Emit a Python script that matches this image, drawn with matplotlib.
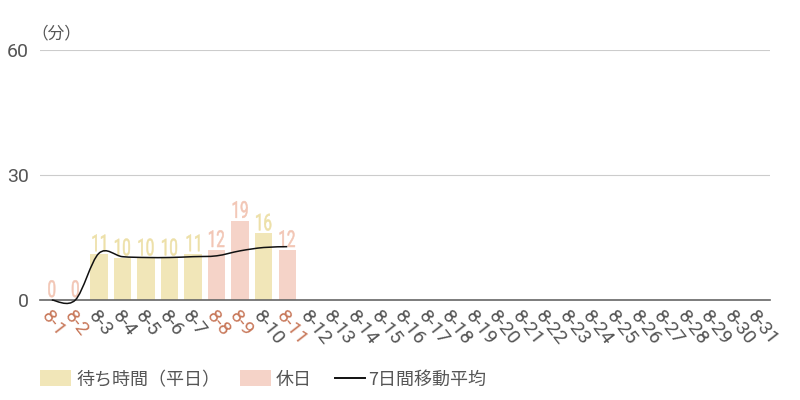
import matplotlib
matplotlib.use("Agg")
import matplotlib.pyplot as plt
from matplotlib.path import Path
from matplotlib.patches import PathPatch, Rectangle
from matplotlib.lines import Line2D
from matplotlib.textpath import TextPath
from matplotlib.font_manager import FontProperties
from matplotlib.transforms import Affine2D, ScaledTranslation
import numpy as np

days = [f"8-{d}" for d in range(1, 32)]
values = [0, 0, 11, 10, 10, 10, 11, 12, 19, 16, 12]
holiday_days = ["8-1", "8-2", "8-8", "8-9", "8-11"]
moving_avg = [0, 0, 11.2, 10.4, 10.2, 10.2, 10.4, 10.6, 11.8, 12.6, 12.8]
yticks = [0, 30, 60]
legend_labels = ["待ち時間（平日）", "休日", "7日間移動平均"]

C_WEEK = "#f1e6b8"
C_HOL = "#f5d3c8"
C_WEEK_TXT = "#ede0a8"
C_HOL_TXT = "#f2c6b5"
C_RED = "#c8785a"
C_GRAY = "#555555"

plt.rcParams['font.family'] = ['Roboto', 'Noto Sans CJK JP', 'DejaVu Sans']

W, H = 800, 400
fig = plt.figure(figsize=(8, 4), dpi=100)
ax = fig.add_axes([0.05, 0.25, 0.9125, 0.625])

x = np.arange(len(days))
fp_num = FontProperties(family='Roboto')
for i, v in enumerate(values):
    hol = days[i] in holiday_days
    col = C_HOL_TXT if hol else C_WEEK_TXT
    ax.bar(i, v, width=0.74, color=C_HOL if hol else C_WEEK, zorder=2)
    # condensed value label
    tp = TextPath((0, 0), str(v), size=27, prop=fp_num)
    bb = tp.get_extents()
    tr = (Affine2D().translate(-(bb.x0 + bb.x1) / 2, 0).scale(0.56, 0.86).translate(0, 3)
          + ScaledTranslation(i, v, ax.transData))
    ax.add_patch(PathPatch(tp, transform=tr, facecolor=col, edgecolor=col, lw=0.4,
                           zorder=3, clip_on=False))

# smooth moving-average line (Catmull-Rom as cubic Bezier)
pts = np.column_stack([np.arange(len(moving_avg)), moving_avg]).astype(float)
verts = [tuple(pts[0])]
codes = [Path.MOVETO]
n = len(pts)
for i in range(n - 1):
    p0 = pts[max(i - 1, 0)]
    p1 = pts[i]
    p2 = pts[i + 1]
    p3 = pts[min(i + 2, n - 1)]
    c1 = p1 + (p2 - p0) / 6.0
    c2 = p2 - (p3 - p1) / 6.0
    verts += [tuple(c1), tuple(c2), tuple(p2)]
    codes += [Path.CURVE4] * 3
ax.add_patch(PathPatch(Path(verts, codes), facecolor='none', edgecolor='#111111',
                       lw=1.1, zorder=6, clip_on=False))

ax.set_xlim(-0.5, len(days) - 0.5)
ax.set_ylim(0, 60)
ax.set_yticks(yticks)
ax.set_yticklabels([str(t) for t in yticks], fontsize=14, color=C_GRAY)
ax.grid(axis='y', color='#cccccc', lw=0.8, zorder=0)
ax.set_axisbelow(True)
for s in ['top', 'right', 'left']:
    ax.spines[s].set_visible(False)
ax.spines['bottom'].set_color('#666666')
ax.spines['bottom'].set_linewidth(1.2)
ax.spines['bottom'].set_zorder(5)
ax.tick_params(axis='both', length=0)
ax.tick_params(axis='y', pad=8)

ax.set_xticks(x)
ax.set_xticklabels(days, rotation=-52, ha='left', va='top', rotation_mode='anchor',
                   fontsize=14)
ax.tick_params(axis='x', pad=5)
for lab in ax.get_xticklabels():
    lab.set_color(C_RED if lab.get_text() in holiday_days else C_GRAY)

ax.text(-0.012, 1.03, "（分）", transform=ax.transAxes, fontsize=12, color=C_GRAY,
        family=['Noto Sans CJK JP'], ha='left', va='bottom')

# legend, placed in pixel positions
def fx(px):
    return px / W

def fy(py):
    return 1 - py / H

ly = 378
fig.patches.append(Rectangle((fx(40), fy(386)), fx(31), 16 / H, transform=fig.transFigure,
                             facecolor=C_WEEK, edgecolor='none'))
fig.patches.append(Rectangle((fx(240), fy(386)), fx(31), 16 / H, transform=fig.transFigure,
                             facecolor=C_HOL, edgecolor='none'))
fig.lines.append(Line2D([fx(335), fx(365)], [fy(ly), fy(ly)], transform=fig.transFigure,
                        color='#111111', lw=1.4))
for px, lab in zip([76, 276, 368], legend_labels):
    fig.text(fx(px), fy(ly), lab, ha='left', va='center_baseline', fontsize=13,
             color=C_GRAY, family=['Noto Sans CJK JP'])

fig.savefig("out.png", dpi=100)
